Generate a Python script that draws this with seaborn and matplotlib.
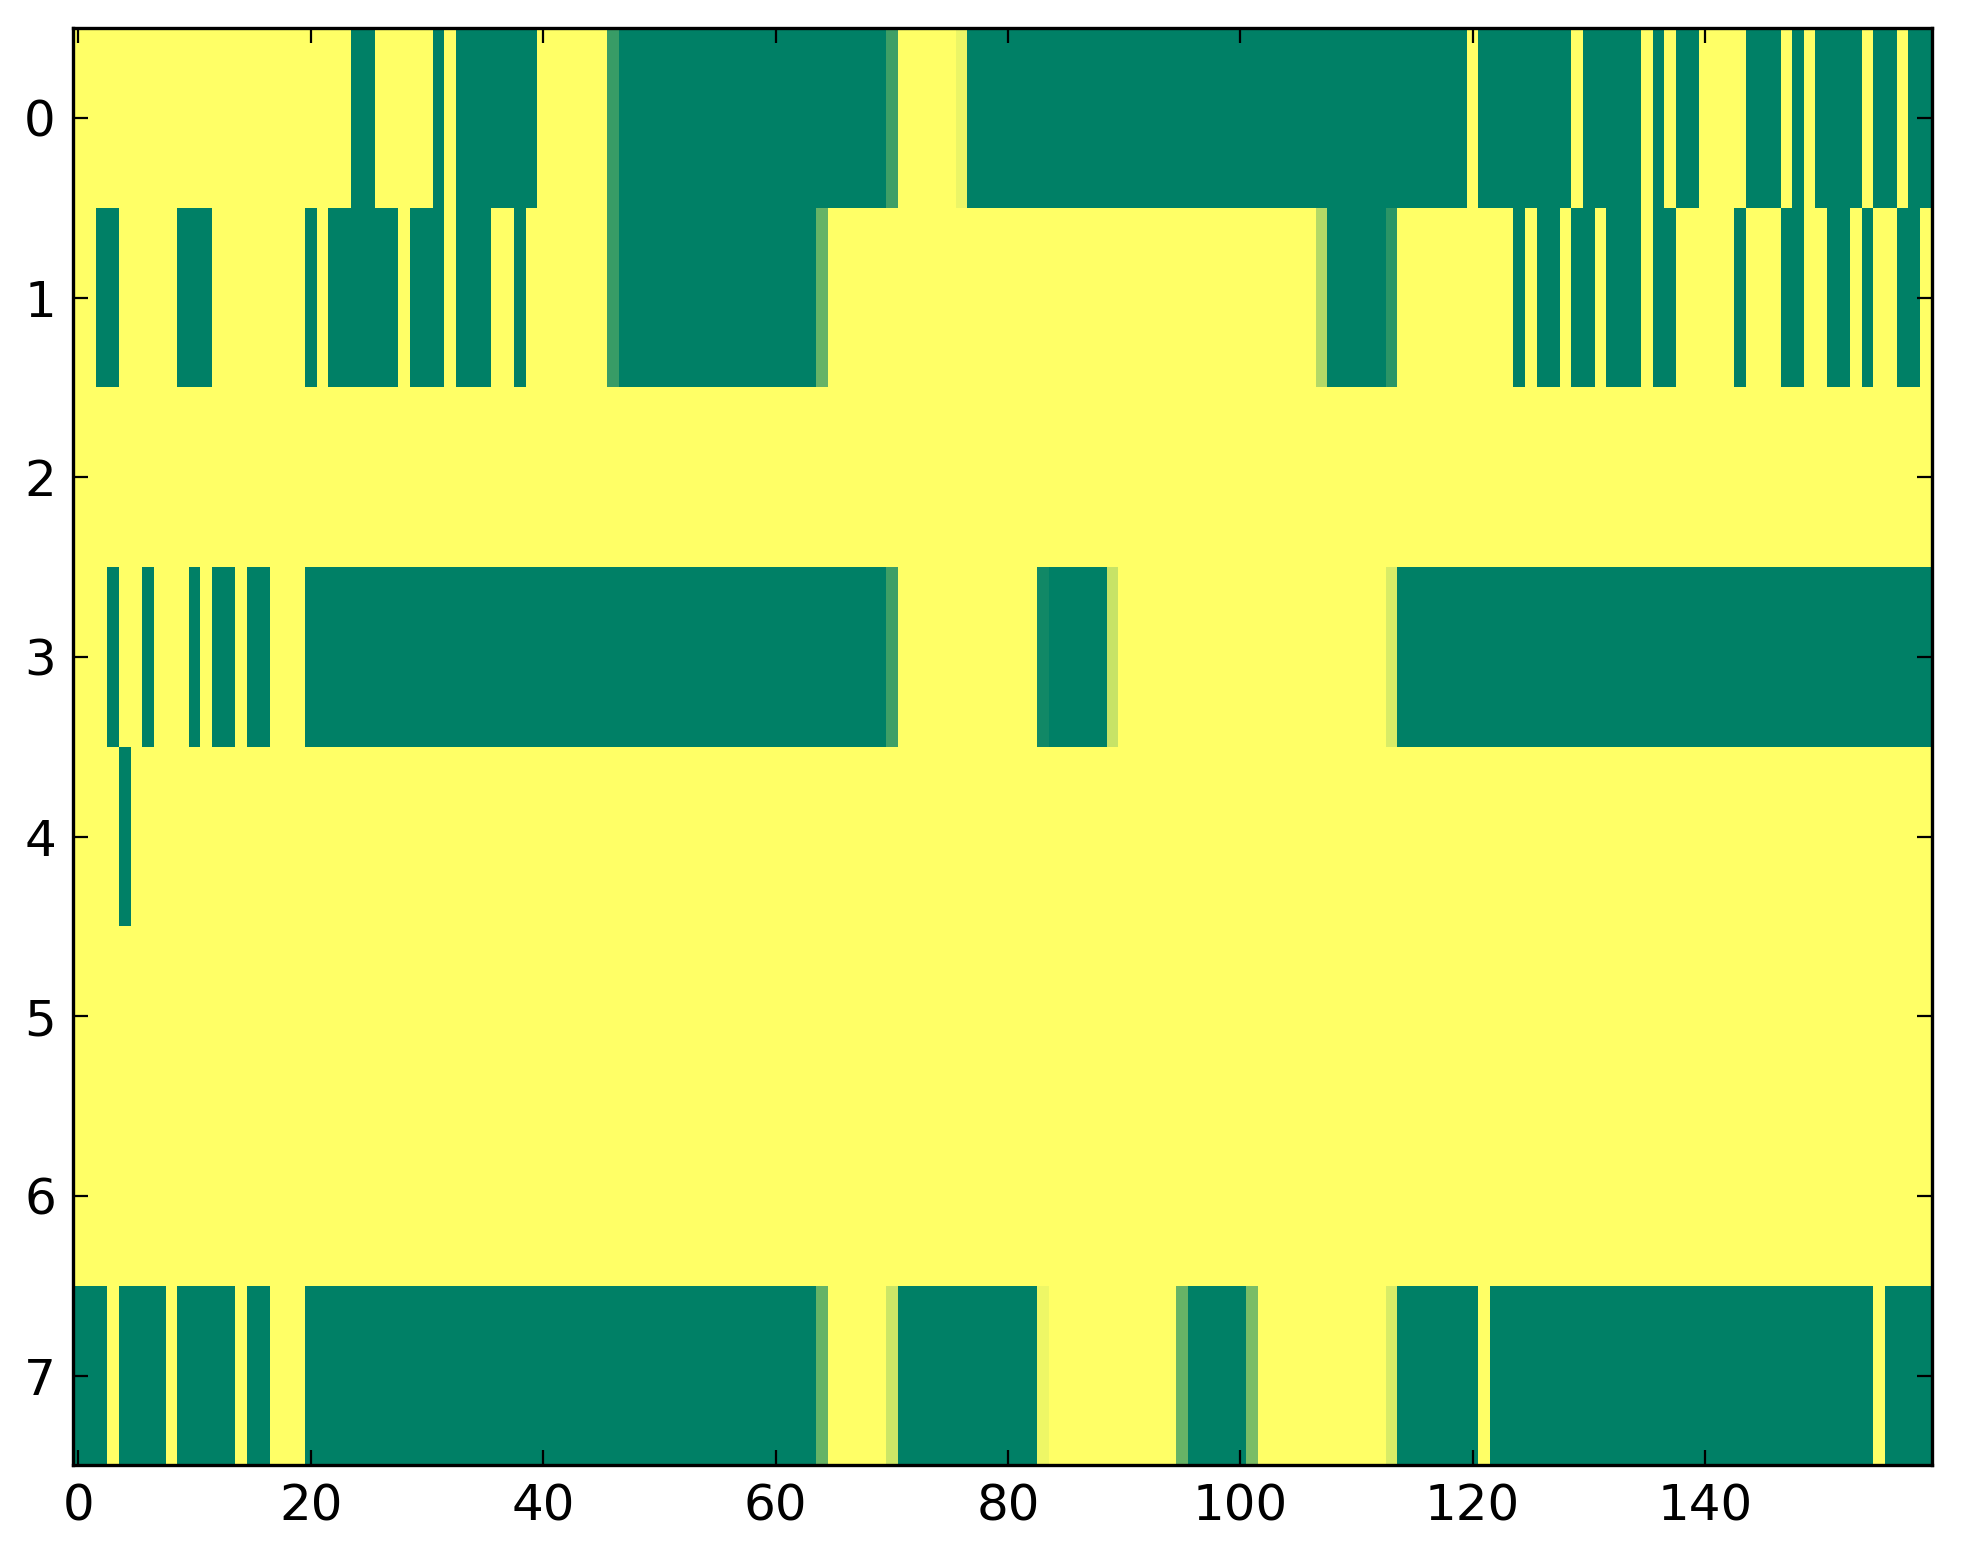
import numpy as np
import pandas as pd
import seaborn as sns
import matplotlib.pyplot as plt

n_cols = 160
row_labels = [0, 1, 2, 3, 4, 5, 6, 7]

# columns equal to 1, given as inclusive (first, last) runs, one list per row
ones_row0 = [(24, 25), (31, 31), (33, 39), (47, 69), (77, 119), (121, 128), (130, 134),
             (136, 136), (138, 139), (144, 146), (148, 148), (150, 153), (155, 156), (158, 159)]
ones_row1 = [(2, 3), (9, 11), (20, 20), (22, 27), (29, 31), (33, 35), (38, 38), (47, 63),
             (108, 112), (124, 124), (126, 127), (129, 130), (132, 134), (136, 137), (143, 143),
             (147, 148), (151, 152), (154, 154), (157, 158)]
ones_row2 = []
ones_row3 = [(3, 3), (6, 6), (10, 10), (12, 13), (15, 16), (20, 69), (84, 88), (114, 159)]
ones_row4 = [(4, 4)]
ones_row5 = []
ones_row6 = []
ones_row7 = [(0, 2), (4, 7), (9, 13), (15, 16), (20, 63), (71, 82), (96, 100), (114, 120),
             (122, 154), (156, 159)]

# cells with in-between values
partial_row0 = {46: 0.78, 70: 0.75, 76: 0.08}
partial_row1 = {46: 0.78, 64: 0.6, 107: 0.3, 113: 0.83}
partial_row3 = {70: 0.75, 83: 0.93, 89: 0.22, 113: 0.15}
partial_row7 = {64: 0.6, 70: 0.2, 83: 0.07, 95: 0.6, 101: 0.52, 113: 0.15}

runs = [ones_row0, ones_row1, ones_row2, ones_row3, ones_row4, ones_row5, ones_row6, ones_row7]
partials = [partial_row0, partial_row1, {}, partial_row3, {}, {}, {}, partial_row7]

mat = np.zeros((len(row_labels), n_cols))
for i, (rr, pp) in enumerate(zip(runs, partials)):
    for a, b in rr:
        mat[i, a:b + 1] = 1.0
    for c, v in pp.items():
        mat[i, c] = v

df = pd.DataFrame(mat, index=row_labels)

fig = plt.figure(figsize=(9.815, 7.82), dpi=200)
ax = fig.add_axes([0.037, 0.063, 0.947, 0.919])
sns.heatmap(df, cmap="summer_r", vmin=0, vmax=1, cbar=False,
            xticklabels=False, yticklabels=False, ax=ax)

xt = np.arange(0, 160, 20)
ax.set_xticks(xt + 0.5)
ax.set_xticklabels([str(t) for t in xt])
ax.set_yticks(np.arange(8) + 0.5)
ax.set_yticklabels([str(r) for r in row_labels], rotation=0)
ax.set_xlabel("")
ax.set_ylabel("")

for s in ax.spines.values():
    s.set_visible(True)
    s.set_linewidth(1.2)
    s.set_color("black")

ax.tick_params(direction="in", top=True, right=True, bottom=True, left=True,
               length=5.5, width=0.8, labelsize=18, pad=6, colors="black")

fig.savefig("out.png", dpi=200)
